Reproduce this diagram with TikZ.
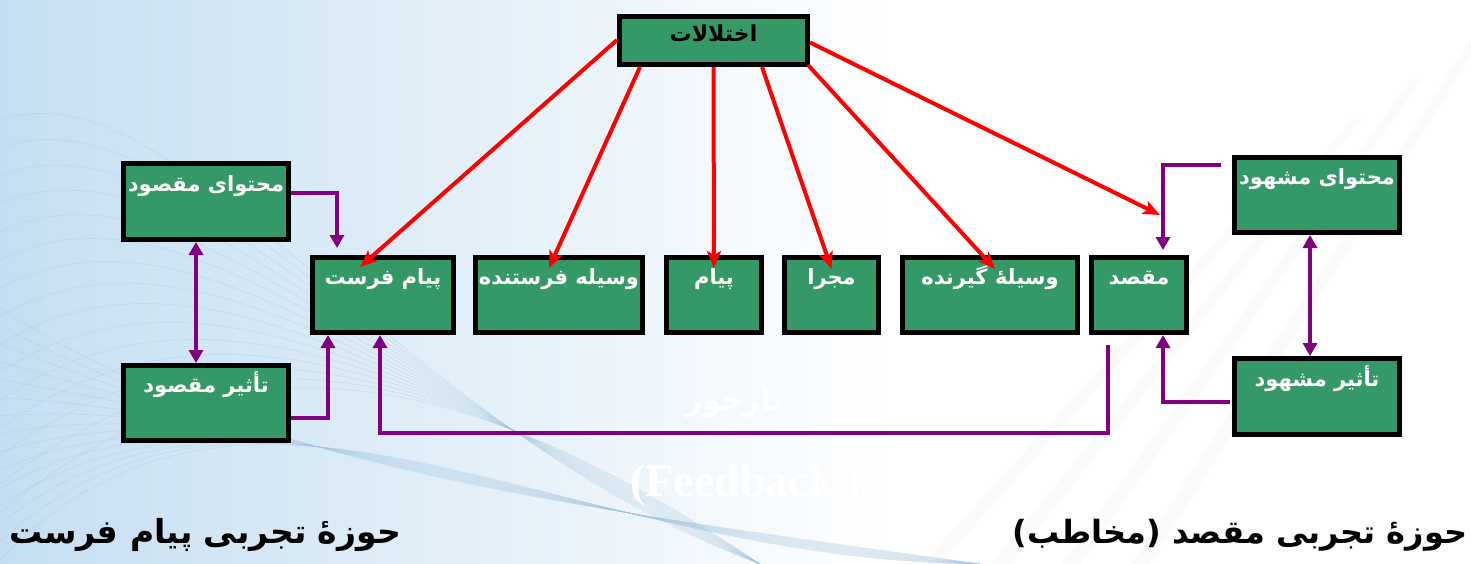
\documentclass[tikz,border=0pt]{standalone}
\usepackage{fontspec}
\usetikzlibrary{arrows.meta,calc}
\newfontfamily\arabicfont[Script=Arabic]{DejaVu Sans}
\newfontfamily\serifb{Liberation Serif}
\TeXXeTstate=1
\definecolor{boxgreen}{RGB}{52,153,103}
\definecolor{purp}{RGB}{128,0,128}
\definecolor{bgblue}{RGB}{196,222,241}
\definecolor{meshblue}{RGB}{160,195,222}
\tikzset{
  box/.style={draw=black, line width=5pt, fill=boxgreen, inner sep=0pt, text=white,
    text height=15pt, text depth=36pt, minimum height=75pt,
    font=\arabicfont\bfseries\fontsize{21}{24}\selectfont},
  redarr/.style={draw=red, line width=4pt, -{Stealth[length=17pt,width=14pt,inset=4pt]}},
  purarr/.style={draw=purp, line width=4pt, -{Triangle[length=13pt,width=14pt]}},
  purboth/.style={draw=purp, line width=4pt, {Triangle[length=13pt,width=14pt]}-{Triangle[length=13pt,width=14pt]}},
  meshline/.style={draw=meshblue, line width=0.5pt, opacity=0.4},
  streak/.style={fill=gray!15, opacity=0.25},
}
\begin{document}
\begin{tikzpicture}[x=1pt,y=-1pt]
\useasboundingbox (0,0) rectangle (1471,564);
% background
\fill[white] (0,0) rectangle (1471,564);
\shade[left color=bgblue, right color=white] (0,0) rectangle (900,564);
\foreach \i in {0,...,14}{
  \draw[meshline] (0,{120+\i*28}) .. controls (180,{60+\i*22}) and (380,{420-\i*8}) .. (760,564);
  \draw[meshline] (0,{560-\i*18}) .. controls (250,{300+\i*12}) and (550,{560-\i*4}) .. (980,{564});
}
\foreach \i in {0,...,3}{
  \fill[streak] ({1471-\i*60},{40+\i*40}) -- ({1471-\i*60+10},{40+\i*40}) -- ({1150-\i*70},564) -- ({1132-\i*70},564) -- cycle;
}
% top box
\node[box, minimum width=188pt, minimum height=48pt, text=black, text height=15pt, text depth=12pt,
  font=\arabicfont\bfseries\fontsize{22}{24}\selectfont] (dist) at (713.5,40.5) {\beginR اختلالات\endR};
% left boxes
\node[box, minimum width=165pt, minimum height=76pt] (mc) at (206,201.5) {\beginR محتوای مقصود\endR};
\node[box, minimum width=165pt] (tm) at (206,403) {\beginR تأثیر مقصود\endR};
% middle row
\node[box, minimum width=141pt] (pf) at (383,295) {\beginR پیام فرست\endR};
\node[box, minimum width=167pt] (vf) at (559,295) {\beginR وسیله فرستنده\endR};
\node[box, minimum width=95pt] (pm) at (714,295) {\beginR پیام\endR};
\node[box, minimum width=94pt] (mj) at (831.5,295) {\beginR مجرا\endR};
\node[box, minimum width=175pt] (vg) at (990,295) {\beginR وسیلهٔ گیرنده\endR};
\node[box, minimum width=95pt] (mq) at (1139,295) {\beginR مقصد\endR};
% right boxes
\node[box, minimum width=165pt] (mh) at (1317,195) {\beginR محتوای مشهود\endR};
\node[box, minimum width=165pt, minimum height=76pt] (th) at (1317,396.5) {\beginR تأثیر مشهود\endR};
% red arrows
\draw[redarr] ([shift={(0,-0.5)}]dist.west) -- ([shift={(-23,12)}]pf.north);
\draw[redarr] ([shift={(-73.5,0)}]dist.south) -- ([shift={(-10,13)}]vf.north);
\draw[redarr] (dist.south) -- ([shift={(0,13)}]pm.north);
\draw[redarr] ([shift={(48.5,0)}]dist.south) -- ([shift={(0,14)}]mj.north);
\draw[redarr] ([shift={(94.5,-2)}]dist.south) -- ([shift={(5,14)}]vg.north);
\draw[redarr] ([shift={(0,2)}]dist.east) -- ([shift={(21,-40)}]mq.north);
% purple arrows
\draw[purarr] ([shift={(0,-8.5)}]mc.east) -| ([shift={(-46,-7)}]pf.north);
\draw[purboth] ([shift={(-10,0)}]mc.south) -- ([shift={(-10,0)}]tm.north);
\draw[purarr] ([shift={(0,15)}]tm.east) -| ([shift={(-55,0)}]pf.south);
\coordinate (fb) at (380,433);
\draw[purarr] ([shift={(-31,10)}]mq.south) |- (fb) -- ([shift={(-3,0)}]pf.south);
\draw[purarr] ([shift={(-11,-30)}]mh.west) -| ([shift={(24,-5)}]mq.north);
\draw[purboth] ([shift={(-7,0)}]mh.south) -- ([shift={(-7,0)}]th.north);
\draw[purarr] ([shift={(-2,5.5)}]th.west) -| ([shift={(24,0)}]mq.south);
% feedback text
\node[text=white, anchor=base, font=\arabicfont\bfseries\fontsize{30}{32}\selectfont] (fbfa) at (734,410) {\beginR بازخور\endR};
\node[text=white, anchor=base, font=\serifb\bfseries\fontsize{46}{50}\selectfont] (fben) at (746,496) {(Feedback )};
% bottom labels
\node[anchor=base, font=\arabicfont\bfseries\fontsize{33}{36}\selectfont] (lsrc) at (205,543) {\beginR حوزهٔ تجربی پیام فرست\endR};
\node[anchor=base, font=\arabicfont\bfseries\fontsize{32}{36}\selectfont] (ldst) at (1240,543) {\beginR حوزهٔ تجربی مقصد (مخاطب)\endR};
\end{tikzpicture}
\end{document}
